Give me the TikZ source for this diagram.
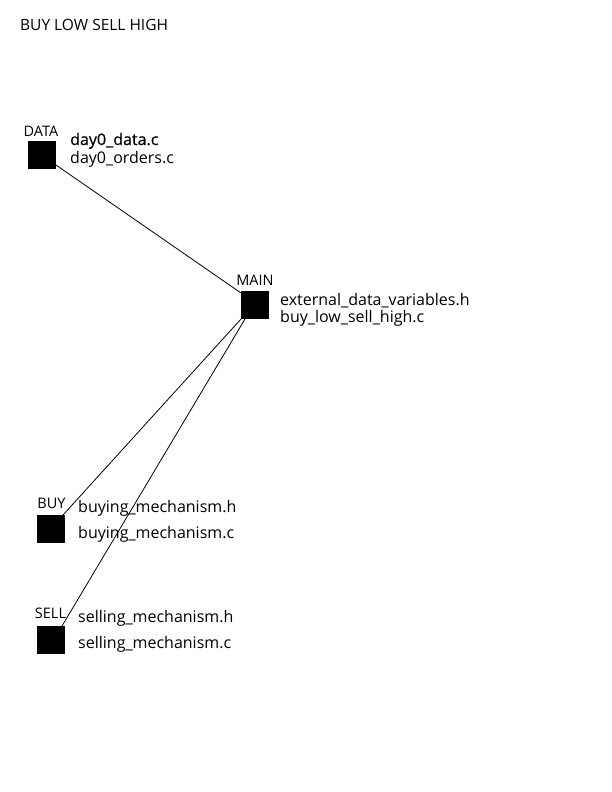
\documentclass[tikz,border=0pt]{standalone}
\usepackage{fontspec}
\setmainfont{Open Sans}
\begin{document}
\begin{tikzpicture}[x=1pt,y=-1pt,
  box/.style={fill=black,draw=none,minimum size=28pt,inner sep=0pt,outer sep=0pt},
  lbl/.style={anchor=base,inner sep=0pt,font=\fontsize{14.5}{14.5}\selectfont},
  fname/.style={anchor=base west,inner sep=0pt,font=\fontsize{16}{16}\selectfont},
  title/.style={anchor=base west,inner sep=0pt,font=\fontsize{15.5}{15.5}\selectfont},
  link/.style={draw=black,line width=0.8pt}]
\useasboundingbox (0,0) rectangle (612,792);
\node[title] (t) at (20,31) {BUY LOW SELL HIGH};
% DATA
\node[box] (data) at (42,155) {};
\node[lbl] (datal) at (41,136) {DATA};
\node[fname] (d1) at (70,145) {\addfontfeature{FakeBold=0.6}day0\_data.c};
\node[fname] (d2) at (70,163) {day0\_orders.c};
% MAIN
\node[box] (main) at (255,305) {};
\node[lbl] (mainl) at (255,285) {MAIN};
\node[fname] (m1) at (280,305) {external\_data\_variables.h};
\node[fname] (m2) at (280,322) {buy\_low\_sell\_high.c};
% BUY
\node[box] (buy) at (51,529) {};
\node[lbl] (buyl) at (51.5,508) {BUY};
\node[fname] (b1) at (78,512) {buying\_mechanism.h};
\node[fname] (b2) at (78,538) {buying\_mechanism.c};
% SELL
\node[box] (sell) at (51,640) {};
\node[lbl] (selll) at (50.5,618) {SELL};
\node[fname] (s1) at (78,622) {selling\_mechanism.h};
\node[fname] (s2) at (78,648) {selling\_mechanism.c};
% connectors
\coordinate (dataend) at ([yshift=-10pt]data.east);
\path[link] (dataend) -- ([yshift=12pt]main.west);
\path[link] (main.south west) -- ([xshift=-2pt]buy.north east);
\path[link] ([xshift=4pt]main.south west) -- ([xshift=-3pt]sell.north east);
\end{tikzpicture}
\end{document}
